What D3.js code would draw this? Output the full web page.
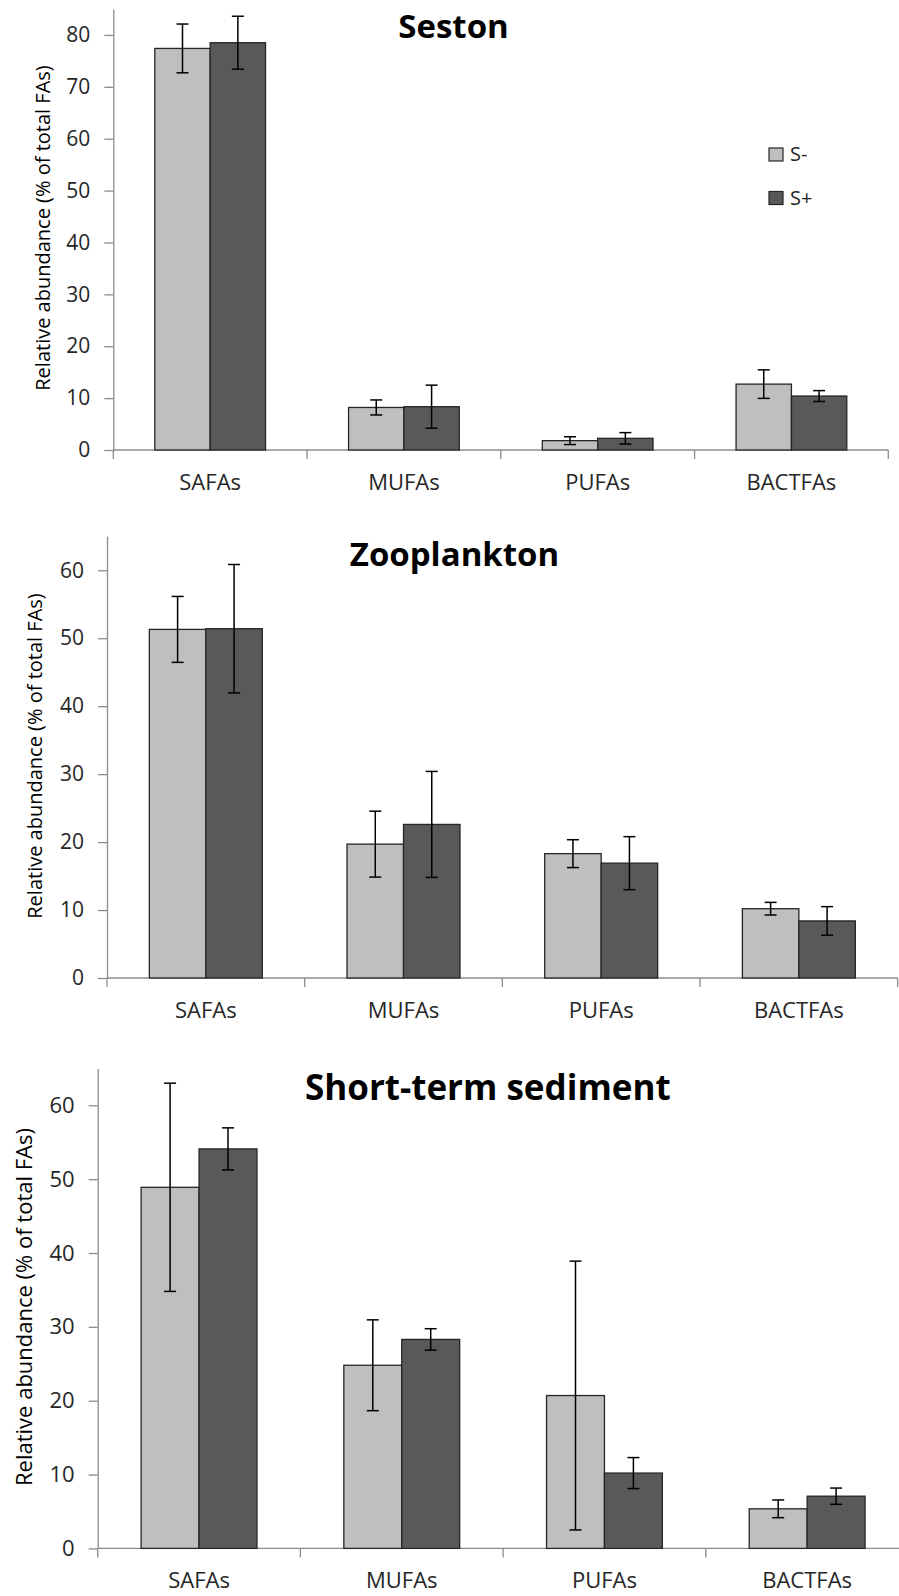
<!DOCTYPE html>
<html>
<head>
<meta charset="utf-8">
<script src="https://cdn.jsdelivr.net/npm/d3@7"></script>
<style>
  html, body { margin: 0; padding: 0; background: #fff; }
  svg { display: block; }
  text { font-family: "Open Sans", sans-serif; }
</style>
</head>
<body>
<svg id="chart" width="899" height="1596"></svg>
<script>
// ---- data ----
const categories = ["SAFAs", "MUFAs", "PUFAs", "BACTFAs"];
const seriesNames = ["S-", "S+"];

const sestonSMinus    = [77.4, 8.2, 1.8, 12.7];
const sestonSMinusErr = [4.7, 1.45, 0.75, 2.75];
const sestonSPlus     = [78.5, 8.35, 2.25, 10.4];
const sestonSPlusErr  = [5.1, 4.15, 1.1, 1.05];

const zooSMinus    = [51.3, 19.7, 18.3, 10.2];
const zooSMinusErr = [4.85, 4.85, 2.05, 0.93];
const zooSPlus     = [51.4, 22.6, 16.9, 8.4];
const zooSPlusErr  = [9.45, 7.8, 3.9, 2.1];

const sedSMinus    = [48.9, 24.8, 20.7, 5.36];
const sedSMinusErr = [14.1, 6.15, 18.2, 1.2];
const sedSPlus     = [54.1, 28.3, 10.2, 7.07];
const sedSPlusErr  = [2.85, 1.45, 2.1, 1.1];

const sestonTicks = [0, 10, 20, 30, 40, 50, 60, 70, 80];
const sixtyTicks  = [0, 10, 20, 30, 40, 50, 60];

const titles = ["Seston", "Zooplankton", "Short-term sediment"];
const yTitle = "Relative abundance (% of total FAs)";

// ---- layout ----
const colors = { "S-": "#BFBFBF", "S+": "#595959" };
const panels = [
  { title: titles[0], vals: [sestonSMinus, sestonSPlus], errs: [sestonSMinusErr, sestonSPlusErr],
    ticks: sestonTicks, yMax: 85, x0: 113.3, x1: 888.3, yBottom: 450, yTop: 9,
    titleX: 453.5, titleY: 38, titleSize: 33, yTitleX: 42, yTitleY: 228, yTitleSize: 20,
    tickSize: 21, catSize: 22, catOffset: 40, legend: true },
  { title: titles[1], vals: [zooSMinus, zooSPlus], errs: [zooSMinusErr, zooSPlusErr],
    ticks: sixtyTicks, yMax: 65, x0: 107, x1: 897.7, yBottom: 978, yTop: 536.3,
    titleX: 454.5, titleY: 566, titleSize: 33, yTitleX: 34, yTitleY: 756, yTitleSize: 20,
    tickSize: 21, catSize: 22, catOffset: 40, legend: false },
  { title: titles[2], vals: [sedSMinus, sedSPlus], errs: [sedSMinusErr, sedSPlusErr],
    ticks: sixtyTicks, yMax: 65, x0: 97.7, x1: 908.5, yBottom: 1548.4, yTop: 1068.4,
    titleX: 487.8, titleY: 1099.5, titleSize: 35, yTitleX: 23, yTitleY: 1307, yTitleSize: 22,
    tickSize: 22, catSize: 22, catOffset: 39.5, legend: false }
];

const svg = d3.select("#chart");
const axisColor = "#8C8C8C";

panels.forEach(p => {
  const g = svg.append("g");
  const x = d3.scaleBand().domain(categories).range([p.x0, p.x1]).paddingInner(0).paddingOuter(0);
  const xs = d3.scaleBand().domain(seriesNames).range([0, x.bandwidth()]).paddingInner(0).paddingOuter(0.75);
  const y = d3.scaleLinear().domain([0, p.yMax]).range([p.yBottom, p.yTop]);

  // Y axis
  const yAx = g.append("g").attr("transform", `translate(${p.x0},0)`)
    .call(d3.axisLeft(y).tickValues(p.ticks).tickSize(9).tickSizeOuter(0).tickPadding(14));
  yAx.select(".domain").attr("stroke", axisColor).attr("stroke-width", 1.3);
  yAx.selectAll(".tick line").attr("stroke", axisColor).attr("stroke-width", 1.3);
  yAx.selectAll(".tick text").attr("font-size", p.tickSize).attr("fill", "#262626")
    .style("font-family", "'Open Sans', sans-serif");

  // X axis line + boundary ticks
  g.append("line").attr("x1", p.x0).attr("x2", p.x1).attr("y1", p.yBottom).attr("y2", p.yBottom)
    .attr("stroke", axisColor).attr("stroke-width", 1.3);
  const bounds = categories.map(c => x(c)).concat([x(categories[categories.length - 1]) + x.bandwidth()]);
  g.selectAll(".xb").data(bounds).enter().append("line")
    .attr("x1", d => d).attr("x2", d => d)
    .attr("y1", p.yBottom).attr("y2", p.yBottom + 9)
    .attr("stroke", axisColor).attr("stroke-width", 1.3);

  // category labels
  g.selectAll(".cat").data(categories).enter().append("text")
    .attr("x", d => x(d) + x.bandwidth() / 2)
    .attr("y", p.yBottom + p.catOffset)
    .attr("text-anchor", "middle").attr("font-size", p.catSize).attr("fill", "#262626")
    .text(d => d);

  // bars
  seriesNames.forEach((s, si) => {
    const data = categories.map((c, ci) => ({ c, v: p.vals[si][ci], e: p.errs[si][ci] }));
    g.selectAll(".bar" + si).data(data).enter().append("rect")
      .attr("x", d => x(d.c) + xs(s))
      .attr("width", xs.bandwidth())
      .attr("y", d => y(d.v))
      .attr("height", d => y(0) - y(d.v))
      .attr("fill", colors[s]).attr("stroke", "#262626").attr("stroke-width", 1.3);
  });

  // error bars
  seriesNames.forEach((s, si) => {
    const data = categories.map((c, ci) => ({ c, v: p.vals[si][ci], e: p.errs[si][ci] }));
    const eg = g.selectAll(".err" + si).data(data).enter().append("g")
      .attr("stroke", "#000").attr("stroke-width", 1.5);
    const cx = d => x(d.c) + xs(s) + xs.bandwidth() / 2;
    eg.append("line").attr("x1", cx).attr("x2", cx)
      .attr("y1", d => y(d.v + d.e)).attr("y2", d => y(Math.max(0, d.v - d.e)));
    eg.append("line").attr("x1", d => cx(d) - 6).attr("x2", d => cx(d) + 6)
      .attr("y1", d => y(d.v + d.e)).attr("y2", d => y(d.v + d.e));
    eg.append("line").attr("x1", d => cx(d) - 6).attr("x2", d => cx(d) + 6)
      .attr("y1", d => y(Math.max(0, d.v - d.e))).attr("y2", d => y(Math.max(0, d.v - d.e)));
  });

  // title
  g.append("text").attr("x", p.titleX).attr("y", p.titleY).attr("text-anchor", "middle")
    .attr("font-size", p.titleSize).attr("font-weight", "bold").attr("fill", "#000").text(p.title);

  // y title
  g.append("text").attr("transform", `translate(${p.yTitleX},${p.yTitleY}) rotate(-90)`)
    .attr("text-anchor", "middle").attr("dominant-baseline", "central")
    .attr("font-size", p.yTitleSize).attr("fill", "#000").text(yTitle);

  // legend
  if (p.legend) {
    const lg = g.append("g");
    const items = lg.selectAll(".li").data(seriesNames).enter().append("g")
      .attr("transform", (d, i) => `translate(769,${148 + i * 43.5})`);
    items.append("rect").attr("width", 14).attr("height", 13)
      .attr("fill", d => colors[d]).attr("stroke", "#262626").attr("stroke-width", 1.2);
    items.append("text").attr("x", 21).attr("y", 13).attr("font-size", 20).attr("fill", "#262626")
      .text(d => d);
  }
});
</script>
</body>
</html>
